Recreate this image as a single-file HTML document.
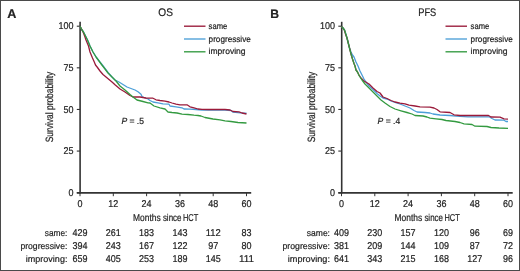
<!DOCTYPE html>
<html><head><meta charset="utf-8">
<style>
html,body{margin:0;padding:0;background:#fff;}
body{width:520px;height:271px;overflow:hidden;position:relative;}
svg{position:absolute;left:0;top:0;display:block;will-change:transform;}
text{font-family:"Liberation Sans", sans-serif;fill:#222;text-rendering:geometricPrecision;stroke:#222;stroke-width:0.2px;}
</style></head>
<body>
<svg width="520" height="271" viewBox="0 0 520 271">
<rect x="0.5" y="0.5" width="519" height="270" fill="#fff" stroke="#4a4a4a" stroke-width="1"/>
<text x="7.30" y="17.70" font-size="12.60" font-weight="bold" fill="#000" stroke="#000" stroke-width="0.25">A</text>
<text x="158.30" y="16.00" font-size="11.00" textLength="14.60" lengthAdjust="spacingAndGlyphs">OS</text>
<g stroke="#333" stroke-width="1.6" fill="none">
<line x1="80.10" y1="21.8" x2="80.10" y2="193.60"/>
<line x1="76.80" y1="192.95" x2="251.20" y2="192.95" stroke-width="1.8"/>
<line x1="76.80" y1="192.70" x2="80.10" y2="192.70" stroke-width="1.1"/>
<line x1="76.80" y1="151.07" x2="80.10" y2="151.07" stroke-width="1.1"/>
<line x1="76.80" y1="109.45" x2="80.10" y2="109.45" stroke-width="1.1"/>
<line x1="76.80" y1="67.82" x2="80.10" y2="67.82" stroke-width="1.1"/>
<line x1="76.80" y1="26.20" x2="80.10" y2="26.20" stroke-width="1.1"/>
<line x1="80.00" y1="192.70" x2="80.00" y2="196.20" stroke-width="1"/>
<line x1="113.30" y1="192.70" x2="113.30" y2="196.20" stroke-width="1"/>
<line x1="146.60" y1="192.70" x2="146.60" y2="196.20" stroke-width="1"/>
<line x1="179.90" y1="192.70" x2="179.90" y2="196.20" stroke-width="1"/>
<line x1="213.20" y1="192.70" x2="213.20" y2="196.20" stroke-width="1"/>
<line x1="246.50" y1="192.70" x2="246.50" y2="196.20" stroke-width="1"/>
</g>
<text x="73.40" y="195.80" font-size="9.90" text-anchor="end" textLength="5.00" lengthAdjust="spacingAndGlyphs">0</text>
<text x="73.40" y="154.17" font-size="9.90" text-anchor="end" textLength="10.00" lengthAdjust="spacingAndGlyphs">25</text>
<text x="73.40" y="112.55" font-size="9.90" text-anchor="end" textLength="10.00" lengthAdjust="spacingAndGlyphs">50</text>
<text x="73.40" y="70.92" font-size="9.90" text-anchor="end" textLength="10.00" lengthAdjust="spacingAndGlyphs">75</text>
<text x="73.40" y="29.30" font-size="9.90" text-anchor="end" textLength="15.00" lengthAdjust="spacingAndGlyphs">100</text>
<text x="80.00" y="206.60" font-size="9.90" text-anchor="middle" textLength="5.00" lengthAdjust="spacingAndGlyphs">0</text>
<text x="113.30" y="206.60" font-size="9.90" text-anchor="middle" textLength="10.00" lengthAdjust="spacingAndGlyphs">12</text>
<text x="146.60" y="206.60" font-size="9.90" text-anchor="middle" textLength="10.00" lengthAdjust="spacingAndGlyphs">24</text>
<text x="179.90" y="206.60" font-size="9.90" text-anchor="middle" textLength="10.00" lengthAdjust="spacingAndGlyphs">36</text>
<text x="213.20" y="206.60" font-size="9.90" text-anchor="middle" textLength="10.00" lengthAdjust="spacingAndGlyphs">48</text>
<text x="246.50" y="206.60" font-size="9.90" text-anchor="middle" textLength="10.00" lengthAdjust="spacingAndGlyphs">60</text>
<text x="133.10" y="221.30" font-size="10.00" textLength="27.60" lengthAdjust="spacingAndGlyphs">Months</text>
<text x="162.90" y="221.30" font-size="10.00" textLength="18.60" lengthAdjust="spacingAndGlyphs">since</text>
<text x="182.90" y="221.30" font-size="10.00" textLength="15.30" lengthAdjust="spacingAndGlyphs">HCT</text>
<text transform="translate(53.40,107) rotate(-90)" x="0" y="0" font-size="10.6" text-anchor="middle" textLength="70.5" lengthAdjust="spacingAndGlyphs">Survival probability</text>
<polyline fill="none" stroke="#4c9fd8" stroke-width="1.3" stroke-linejoin="round" points="80.0,26.3 82.0,30.0 83.5,32.0 85.0,35.0 87.5,40.0 90.0,46.0 93.0,52.0 96.5,57.5 99.5,61.5 102.0,64.5 105.0,68.5 108.0,72.5 112.0,77.0 115.0,80.0 119.0,82.0 123.0,84.5 127.0,87.0 131.0,88.5 135.0,90.0 138.0,91.8 141.0,94.2 142.0,96.5 145.0,98.0 148.0,99.0 150.0,100.5 153.0,102.0 158.0,102.8 163.0,103.8 169.0,104.2 170.0,106.0 176.0,106.8 182.0,107.8 184.0,109.0 190.0,109.2 196.0,109.5 202.0,110.0 208.0,110.2 225.0,110.2 231.0,110.5 233.0,112.2 240.0,112.8 246.5,113.2"/>
<polyline fill="none" stroke="#9a1a3a" stroke-width="1.3" stroke-linejoin="round" points="80.0,26.3 82.0,30.0 83.5,33.0 85.0,37.0 86.0,40.0 88.5,46.0 90.0,52.0 92.5,58.0 94.5,62.5 95.5,65.0 97.5,67.5 100.0,71.0 103.0,74.5 106.0,77.0 109.0,79.5 112.0,82.0 115.0,84.8 120.0,89.0 125.0,92.0 130.0,95.5 133.0,97.0 140.0,97.0 146.0,98.0 150.0,98.2 153.0,98.2 156.0,99.8 160.0,100.5 165.0,101.2 169.0,102.0 172.0,103.0 176.0,104.2 180.0,104.8 187.0,104.8 190.0,106.8 194.0,107.8 198.0,109.0 202.0,109.4 208.0,109.5 225.0,109.5 230.0,110.0 233.0,111.5 239.0,111.8 242.0,113.0 246.5,114.0"/>
<polyline fill="none" stroke="#339a40" stroke-width="1.3" stroke-linejoin="round" points="80.0,26.3 82.0,30.0 83.5,32.0 85.0,35.0 87.5,40.0 90.0,46.0 93.0,52.0 96.0,57.0 99.0,61.0 101.5,64.5 105.0,69.0 108.0,73.0 112.0,77.0 116.0,81.0 120.0,86.0 125.0,90.0 130.0,94.5 133.0,97.0 137.0,100.0 143.0,101.5 148.0,102.8 150.0,103.0 154.0,106.0 160.0,107.8 165.0,109.0 168.0,112.0 172.0,112.5 177.0,113.0 182.0,114.2 188.0,114.5 194.0,115.2 198.0,115.5 201.0,116.0 205.0,117.5 213.0,119.0 220.0,119.8 225.0,120.8 231.0,121.5 238.0,122.5 246.5,123.0"/>
<line x1="184.00" y1="26.20" x2="205.50" y2="26.20" stroke="#9a1a3a" stroke-width="1.35"/>
<text x="208.60" y="28.80" font-size="8.60" textLength="18.60" lengthAdjust="spacingAndGlyphs">same</text>
<line x1="184.00" y1="39.00" x2="205.50" y2="39.00" stroke="#4c9fd8" stroke-width="1.35"/>
<text x="208.60" y="41.60" font-size="8.60" textLength="42.20" lengthAdjust="spacingAndGlyphs">progressive</text>
<line x1="184.00" y1="51.80" x2="205.50" y2="51.80" stroke="#339a40" stroke-width="1.35"/>
<text x="208.60" y="54.40" font-size="8.60" textLength="37.00" lengthAdjust="spacingAndGlyphs">improving</text>
<text x="121.40" y="123.7" font-size="8.9" textLength="22.6" lengthAdjust="spacingAndGlyphs"><tspan font-style="italic">P</tspan> = .5</text>
<text x="67.40" y="236.30" font-size="9.00" text-anchor="end" textLength="22.60" lengthAdjust="spacingAndGlyphs">same:</text>
<text x="80.00" y="236.30" font-size="9.90" text-anchor="middle" textLength="15.00" lengthAdjust="spacingAndGlyphs">429</text>
<text x="113.30" y="236.30" font-size="9.90" text-anchor="middle" textLength="15.00" lengthAdjust="spacingAndGlyphs">261</text>
<text x="146.60" y="236.30" font-size="9.90" text-anchor="middle" textLength="15.00" lengthAdjust="spacingAndGlyphs">183</text>
<text x="179.90" y="236.30" font-size="9.90" text-anchor="middle" textLength="15.00" lengthAdjust="spacingAndGlyphs">143</text>
<text x="213.20" y="236.30" font-size="9.90" text-anchor="middle" textLength="15.00" lengthAdjust="spacingAndGlyphs">112</text>
<text x="246.50" y="236.30" font-size="9.90" text-anchor="middle" textLength="10.00" lengthAdjust="spacingAndGlyphs">83</text>
<text x="67.40" y="248.90" font-size="9.00" text-anchor="end" textLength="47.00" lengthAdjust="spacingAndGlyphs">progressive:</text>
<text x="80.00" y="248.90" font-size="9.90" text-anchor="middle" textLength="15.00" lengthAdjust="spacingAndGlyphs">394</text>
<text x="113.30" y="248.90" font-size="9.90" text-anchor="middle" textLength="15.00" lengthAdjust="spacingAndGlyphs">243</text>
<text x="146.60" y="248.90" font-size="9.90" text-anchor="middle" textLength="15.00" lengthAdjust="spacingAndGlyphs">167</text>
<text x="179.90" y="248.90" font-size="9.90" text-anchor="middle" textLength="15.00" lengthAdjust="spacingAndGlyphs">122</text>
<text x="213.20" y="248.90" font-size="9.90" text-anchor="middle" textLength="10.00" lengthAdjust="spacingAndGlyphs">97</text>
<text x="246.50" y="248.90" font-size="9.90" text-anchor="middle" textLength="10.00" lengthAdjust="spacingAndGlyphs">80</text>
<text x="67.40" y="261.50" font-size="9.00" text-anchor="end" textLength="41.60" lengthAdjust="spacingAndGlyphs">improving:</text>
<text x="80.00" y="261.50" font-size="9.90" text-anchor="middle" textLength="15.00" lengthAdjust="spacingAndGlyphs">659</text>
<text x="113.30" y="261.50" font-size="9.90" text-anchor="middle" textLength="15.00" lengthAdjust="spacingAndGlyphs">405</text>
<text x="146.60" y="261.50" font-size="9.90" text-anchor="middle" textLength="15.00" lengthAdjust="spacingAndGlyphs">253</text>
<text x="179.90" y="261.50" font-size="9.90" text-anchor="middle" textLength="15.00" lengthAdjust="spacingAndGlyphs">189</text>
<text x="213.20" y="261.50" font-size="9.90" text-anchor="middle" textLength="15.00" lengthAdjust="spacingAndGlyphs">145</text>
<text x="246.50" y="261.50" font-size="9.90" text-anchor="middle" textLength="15.00" lengthAdjust="spacingAndGlyphs">111</text>
<text x="270.30" y="17.70" font-size="12.20" font-weight="bold" fill="#000" stroke="#000" stroke-width="0.25">B</text>
<text x="418.30" y="16.00" font-size="11.00" textLength="18.00" lengthAdjust="spacingAndGlyphs">PFS</text>
<g stroke="#333" stroke-width="1.6" fill="none">
<line x1="341.70" y1="21.8" x2="341.70" y2="193.60"/>
<line x1="338.30" y1="192.95" x2="512.70" y2="192.95" stroke-width="1.8"/>
<line x1="338.30" y1="192.70" x2="341.70" y2="192.70" stroke-width="1.1"/>
<line x1="338.30" y1="151.07" x2="341.70" y2="151.07" stroke-width="1.1"/>
<line x1="338.30" y1="109.45" x2="341.70" y2="109.45" stroke-width="1.1"/>
<line x1="338.30" y1="67.82" x2="341.70" y2="67.82" stroke-width="1.1"/>
<line x1="338.30" y1="26.20" x2="341.70" y2="26.20" stroke-width="1.1"/>
<line x1="341.50" y1="192.70" x2="341.50" y2="196.20" stroke-width="1"/>
<line x1="374.80" y1="192.70" x2="374.80" y2="196.20" stroke-width="1"/>
<line x1="408.10" y1="192.70" x2="408.10" y2="196.20" stroke-width="1"/>
<line x1="441.40" y1="192.70" x2="441.40" y2="196.20" stroke-width="1"/>
<line x1="474.70" y1="192.70" x2="474.70" y2="196.20" stroke-width="1"/>
<line x1="508.00" y1="192.70" x2="508.00" y2="196.20" stroke-width="1"/>
</g>
<text x="334.90" y="195.80" font-size="9.90" text-anchor="end" textLength="5.00" lengthAdjust="spacingAndGlyphs">0</text>
<text x="334.90" y="154.17" font-size="9.90" text-anchor="end" textLength="10.00" lengthAdjust="spacingAndGlyphs">25</text>
<text x="334.90" y="112.55" font-size="9.90" text-anchor="end" textLength="10.00" lengthAdjust="spacingAndGlyphs">50</text>
<text x="334.90" y="70.92" font-size="9.90" text-anchor="end" textLength="10.00" lengthAdjust="spacingAndGlyphs">75</text>
<text x="334.90" y="29.30" font-size="9.90" text-anchor="end" textLength="15.00" lengthAdjust="spacingAndGlyphs">100</text>
<text x="341.50" y="206.60" font-size="9.90" text-anchor="middle" textLength="5.00" lengthAdjust="spacingAndGlyphs">0</text>
<text x="374.80" y="206.60" font-size="9.90" text-anchor="middle" textLength="10.00" lengthAdjust="spacingAndGlyphs">12</text>
<text x="408.10" y="206.60" font-size="9.90" text-anchor="middle" textLength="10.00" lengthAdjust="spacingAndGlyphs">24</text>
<text x="441.40" y="206.60" font-size="9.90" text-anchor="middle" textLength="10.00" lengthAdjust="spacingAndGlyphs">36</text>
<text x="474.70" y="206.60" font-size="9.90" text-anchor="middle" textLength="10.00" lengthAdjust="spacingAndGlyphs">48</text>
<text x="508.00" y="206.60" font-size="9.90" text-anchor="middle" textLength="10.00" lengthAdjust="spacingAndGlyphs">60</text>
<text x="394.60" y="221.30" font-size="10.00" textLength="27.60" lengthAdjust="spacingAndGlyphs">Months</text>
<text x="424.40" y="221.30" font-size="10.00" textLength="18.60" lengthAdjust="spacingAndGlyphs">since</text>
<text x="444.40" y="221.30" font-size="10.00" textLength="15.30" lengthAdjust="spacingAndGlyphs">HCT</text>
<text transform="translate(314.90,107) rotate(-90)" x="0" y="0" font-size="10.6" text-anchor="middle" textLength="70.5" lengthAdjust="spacingAndGlyphs">Survival probability</text>
<polyline fill="none" stroke="#4c9fd8" stroke-width="1.3" stroke-linejoin="round" points="341.5,26.5 343.0,28.0 344.5,30.0 345.5,33.0 347.0,38.0 348.0,42.0 349.5,48.0 351.0,52.0 352.5,55.0 354.0,57.0 356.0,62.0 358.0,66.0 360.0,71.0 362.0,75.0 364.0,79.0 366.0,82.0 369.0,86.0 373.0,89.5 377.0,93.5 380.0,96.0 383.0,98.0 387.0,99.0 391.0,101.0 395.0,102.5 400.0,104.0 405.0,106.0 410.0,108.0 414.0,110.5 417.0,112.0 425.0,112.5 430.0,113.0 433.0,114.0 440.0,115.0 450.0,115.5 456.0,116.2 468.0,116.8 489.0,116.8 492.0,118.5 495.0,120.0 504.0,120.2 506.0,121.5 508.0,121.5"/>
<polyline fill="none" stroke="#9a1a3a" stroke-width="1.3" stroke-linejoin="round" points="341.5,26.5 343.0,28.0 344.5,30.5 345.5,34.0 347.0,38.0 348.0,42.0 349.5,48.0 351.0,54.0 352.5,59.0 354.0,63.5 355.0,66.0 356.0,70.0 357.5,72.0 359.0,75.0 361.0,78.0 364.0,81.0 369.0,84.0 373.0,88.0 377.0,91.5 380.0,93.0 383.0,97.0 387.0,98.5 391.0,100.5 395.0,102.0 400.0,103.2 405.0,103.8 409.0,105.2 415.0,106.0 420.0,106.8 430.0,107.2 434.0,108.0 437.0,109.5 440.0,111.8 450.0,112.5 454.0,114.8 460.0,115.5 488.5,115.5 491.0,117.0 500.0,117.2 504.0,118.8 508.0,119.2"/>
<polyline fill="none" stroke="#339a40" stroke-width="1.3" stroke-linejoin="round" points="341.5,26.5 343.0,28.0 344.5,30.0 345.5,33.0 347.0,38.0 348.0,42.0 349.5,48.0 351.0,54.0 352.5,59.0 354.0,63.5 355.0,66.0 356.0,70.0 357.5,72.0 359.0,75.5 362.0,80.0 365.0,84.0 369.0,88.0 373.0,92.0 377.0,96.0 381.0,100.0 385.0,103.0 390.0,106.5 395.0,109.0 401.0,110.8 407.0,112.5 412.0,114.0 415.0,115.5 423.0,116.0 427.0,117.0 430.0,118.2 436.0,118.8 442.0,119.5 446.0,120.5 455.0,121.5 460.0,122.5 464.0,123.8 472.0,124.5 475.0,126.2 487.0,126.5 491.0,127.5 499.0,128.0 508.0,128.3"/>
<line x1="445.50" y1="26.20" x2="467.00" y2="26.20" stroke="#9a1a3a" stroke-width="1.35"/>
<text x="470.60" y="28.80" font-size="8.60" textLength="18.60" lengthAdjust="spacingAndGlyphs">same</text>
<line x1="445.50" y1="39.00" x2="467.00" y2="39.00" stroke="#4c9fd8" stroke-width="1.35"/>
<text x="470.60" y="41.60" font-size="8.60" textLength="42.20" lengthAdjust="spacingAndGlyphs">progressive</text>
<line x1="445.50" y1="51.80" x2="467.00" y2="51.80" stroke="#339a40" stroke-width="1.35"/>
<text x="470.60" y="54.40" font-size="8.60" textLength="37.00" lengthAdjust="spacingAndGlyphs">improving</text>
<text x="377.60" y="123.7" font-size="8.9" textLength="22.6" lengthAdjust="spacingAndGlyphs"><tspan font-style="italic">P</tspan> = .4</text>
<text x="330.00" y="236.30" font-size="9.00" text-anchor="end" textLength="23.20" lengthAdjust="spacingAndGlyphs">same:</text>
<text x="341.50" y="236.30" font-size="9.90" text-anchor="middle" textLength="15.00" lengthAdjust="spacingAndGlyphs">409</text>
<text x="374.80" y="236.30" font-size="9.90" text-anchor="middle" textLength="15.00" lengthAdjust="spacingAndGlyphs">230</text>
<text x="408.10" y="236.30" font-size="9.90" text-anchor="middle" textLength="15.00" lengthAdjust="spacingAndGlyphs">157</text>
<text x="441.40" y="236.30" font-size="9.90" text-anchor="middle" textLength="15.00" lengthAdjust="spacingAndGlyphs">120</text>
<text x="474.70" y="236.30" font-size="9.90" text-anchor="middle" textLength="10.00" lengthAdjust="spacingAndGlyphs">96</text>
<text x="508.00" y="236.30" font-size="9.90" text-anchor="middle" textLength="10.00" lengthAdjust="spacingAndGlyphs">69</text>
<text x="330.00" y="248.90" font-size="9.00" text-anchor="end" textLength="47.60" lengthAdjust="spacingAndGlyphs">progressive:</text>
<text x="341.50" y="248.90" font-size="9.90" text-anchor="middle" textLength="15.00" lengthAdjust="spacingAndGlyphs">381</text>
<text x="374.80" y="248.90" font-size="9.90" text-anchor="middle" textLength="15.00" lengthAdjust="spacingAndGlyphs">209</text>
<text x="408.10" y="248.90" font-size="9.90" text-anchor="middle" textLength="15.00" lengthAdjust="spacingAndGlyphs">144</text>
<text x="441.40" y="248.90" font-size="9.90" text-anchor="middle" textLength="15.00" lengthAdjust="spacingAndGlyphs">109</text>
<text x="474.70" y="248.90" font-size="9.90" text-anchor="middle" textLength="10.00" lengthAdjust="spacingAndGlyphs">87</text>
<text x="508.00" y="248.90" font-size="9.90" text-anchor="middle" textLength="10.00" lengthAdjust="spacingAndGlyphs">72</text>
<text x="330.00" y="261.50" font-size="9.00" text-anchor="end" textLength="42.20" lengthAdjust="spacingAndGlyphs">improving:</text>
<text x="341.50" y="261.50" font-size="9.90" text-anchor="middle" textLength="15.00" lengthAdjust="spacingAndGlyphs">641</text>
<text x="374.80" y="261.50" font-size="9.90" text-anchor="middle" textLength="15.00" lengthAdjust="spacingAndGlyphs">343</text>
<text x="408.10" y="261.50" font-size="9.90" text-anchor="middle" textLength="15.00" lengthAdjust="spacingAndGlyphs">215</text>
<text x="441.40" y="261.50" font-size="9.90" text-anchor="middle" textLength="15.00" lengthAdjust="spacingAndGlyphs">168</text>
<text x="474.70" y="261.50" font-size="9.90" text-anchor="middle" textLength="15.00" lengthAdjust="spacingAndGlyphs">127</text>
<text x="508.00" y="261.50" font-size="9.90" text-anchor="middle" textLength="10.00" lengthAdjust="spacingAndGlyphs">96</text>
</svg>
</body></html>
